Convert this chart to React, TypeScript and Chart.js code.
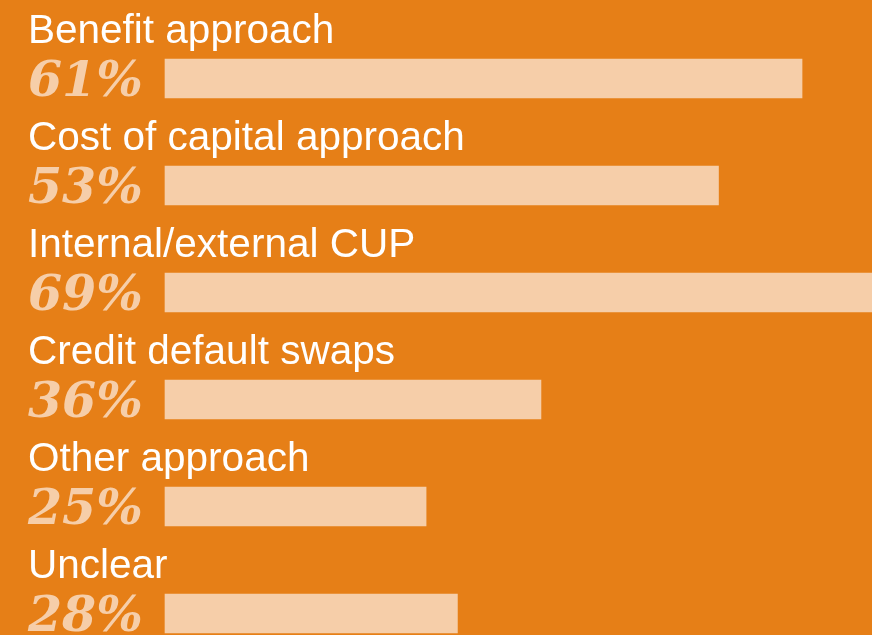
import React, { useEffect, useRef } from "react";
import { Chart, registerables } from "chart.js";

Chart.register(...registerables);

const categories = [
  "Benefit approach",
  "Cost of capital approach",
  "Internal/external CUP",
  "Credit default swaps",
  "Other approach",
  "Unclear",
];
const values = [61, 53, 69, 36, 25, 28];

const BG = "#E67F17";
const BAR = "#F6CEA9";

const labelPlugin = {
  id: "labelPlugin",
  afterDatasetsDraw(chart: any) {
    const ctx = chart.ctx;
    const meta = chart.getDatasetMeta(0);
    const left = chart.chartArea.left;
    ctx.save();
    meta.data.forEach((bar: any, i: number) => {
      const { y } = bar.getProps(["y"], true);
      ctx.textAlign = "left";
      ctx.textBaseline = "alphabetic";
      ctx.fillStyle = "#FFFFFF";
      ctx.font = '40.5px "Liberation Sans", Arial, sans-serif';
      ctx.fillText(categories[i], left - 137, y - 36);
      ctx.fillStyle = BAR;
      ctx.font = 'italic bold 49px "DejaVu Serif", serif';
      ctx.fillText(values[i] + "%", left - 137, y + 17);
    });
    ctx.restore();
  },
};

export default function App() {
  const ref = useRef<HTMLCanvasElement>(null);
  useEffect(() => {
    document.body.style.margin = "0";
    const chart = new Chart(ref.current!, {
      type: "bar",
      data: {
        labels: categories,
        datasets: [
          {
            data: values,
            backgroundColor: BAR,
            borderWidth: 0,
            barThickness: 39,
            clip: false as any,
          },
        ],
      },
      options: {
        indexAxis: "y",
        responsive: false,
        animation: false,
        layout: { padding: { left: 165, right: 0, top: 78.5, bottom: 21.5 } },
        plugins: { legend: { display: false }, tooltip: { enabled: false } },
        scales: {
          x: { display: false, min: 0, max: 67.7 },
          y: { display: false, offset: false, grid: { display: false } },
        },
      },
      plugins: [labelPlugin],
    });
    return () => chart.destroy();
  }, []);
  return (
    <div
      style={{
        position: "fixed",
        left: 0,
        top: 0,
        width: 872,
        height: 635,
        background: BG,
        overflow: "hidden",
      }}
    >
      <canvas ref={ref} width={872} height={635} style={{ display: "block" }} />
    </div>
  );
}
